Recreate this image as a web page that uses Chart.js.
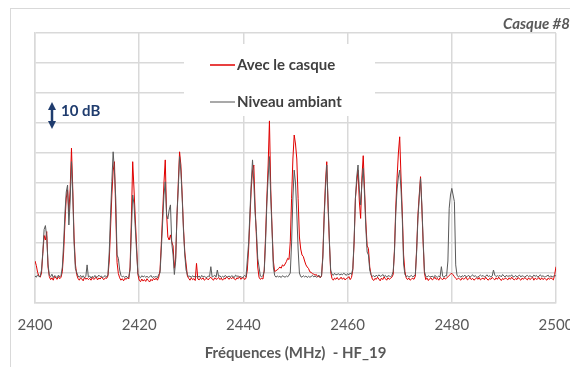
<!DOCTYPE html>
<html>
<head>
<meta charset="utf-8">
<script src="https://cdn.jsdelivr.net/npm/chart.js@4/dist/chart.umd.min.js"></script>
<style>
html,body{margin:0;padding:0;background:#fff;}
canvas{display:block;}
</style>
</head>
<body>
<canvas id="c" width="570" height="367"></canvas>
<script>
// Sampling grid (MHz)
const freqStart = 2400;
const freqStep = 0.25;
const xTicks = [2400, 2420, 2440, 2460, 2480, 2500];
const seriesNames = ['Avec le casque', 'Niveau ambiant'];

// "Avec le casque" (red), one row per MHz: f, f+.25, f+.5, f+.75
const avecCasque = [
14.0,12.5,10.2,9.0,
8.6,10.0,16.5,22.5,
21.0,23.8,12.0,8.8,
7.8,8.4,7.6,8.9,
8.3,7.9,8.8,8.1,
8.6,10.5,17.0,27.0,
35.0,37.7,30.4,38.0,
51.6,38.0,22.0,13.0,
9.5,8.2,7.6,8.4,
8.0,7.4,8.6,7.9,
8.3,7.8,8.2,7.6,
8.5,7.9,8.1,8.7,
7.7,8.3,8.0,8.6,
8.1,7.8,8.4,8.2,
9.0,14.0,25.0,36.0,
44.0,47.1,30.0,13.5,
9.8,8.4,7.6,8.1,
7.4,8.2,7.9,8.5,
8.0,12.0,28.0,47.1,
38.0,28.0,19.0,9.5,
7.6,7.1,8.0,7.3,
7.8,7.2,8.1,7.5,
7.0,7.9,7.4,8.2,
7.7,8.3,7.6,8.6,
11.0,20.0,30.0,40.0,
47.7,30.0,22.0,21.0,
22.7,20.4,19.0,11.6,
15.0,29.0,40.0,50.4,
46.0,36.0,25.0,17.0,
13.0,9.0,8.2,7.6,
8.4,7.8,8.1,7.5,
13.2,8.0,7.7,8.3,
7.9,8.4,7.6,8.0,
8.2,7.7,8.3,8.6,
8.0,7.6,8.4,7.9,
8.1,8.5,7.8,8.3,
7.6,8.2,8.0,8.7,
8.4,7.9,8.5,8.1,
8.6,8.0,7.7,8.4,
8.1,8.8,7.9,8.3,
8.5,7.8,8.3,11.0,
18.0,28.0,38.0,44.0,
46.0,32.0,22.0,12.0,
8.6,7.9,8.2,8.0,
11.0,22.0,35.0,46.0,
60.7,38.0,25.0,14.0,
10.4,10.8,11.0,11.5,
12.0,11.6,12.7,12.3,
13.0,13.8,14.9,14.5,
20.4,34.9,48.0,56.0,
53.0,48.0,34.9,22.0,
18.0,16.0,15.5,14.0,
12.7,12.0,11.5,10.4,
10.2,9.8,9.6,9.3,
9.5,8.7,9.0,8.4,
9.0,16.0,29.3,40.0,
47.1,32.0,20.4,10.4,
8.2,7.6,8.3,7.9,
8.5,7.8,8.0,8.6,
7.9,8.4,7.7,8.1,
8.3,8.8,7.8,8.5,
11.0,20.0,34.9,40.0,
44.3,34.0,28.2,42.0,
49.1,38.0,27.0,19.0,
18.2,12.0,9.5,8.0,
7.5,8.2,7.9,8.6,
8.0,7.4,8.3,7.8,
8.7,8.1,7.6,8.4,
7.9,8.2,8.6,9.5,
18.0,32.0,42.0,50.0,
55.4,42.0,30.0,16.0,
10.5,8.4,7.8,8.3,
7.6,8.0,8.2,7.9,
9.0,18.0,29.3,36.0,
42.1,32.0,20.0,10.0,
7.8,8.3,7.5,8.1,
8.4,7.7,8.0,8.6,
7.9,8.2,7.6,8.5,
8.1,7.8,8.4,8.0,
8.3,8.7,9.2,9.6,
9.9,9.4,8.8,8.2,
7.8,8.3,8.0,7.6,
8.4,7.9,8.2,8.6,
7.7,8.1,8.5,7.8,
8.2,7.6,8.0,8.4,
7.9,8.5,7.7,8.1,
8.3,7.8,8.6,8.0,
7.6,8.2,7.9,8.5,
8.1,7.7,8.4,7.9,
8.6,8.0,7.5,8.2,
7.8,8.3,8.1,7.7,
8.4,7.9,8.6,8.0,
7.7,8.2,7.8,8.5,
8.0,7.6,8.3,7.9,
8.5,8.1,7.7,8.4,
7.8,8.2,8.6,7.6,
8.3,7.9,8.1,8.5,
7.7,8.4,7.8,8.2,
8.0,7.6,8.3,7.9,
8.4,8.1,7.7,9.5,
12.1
];

// "Niveau ambiant" (grey), one row per MHz
const niveauAmbiant = [
9.0,8.6,9.4,8.8,
8.9,11.0,17.0,24.5,
25.8,22.0,13.0,9.2,
8.8,9.6,8.5,9.1,
8.9,8.4,9.3,8.7,
9.2,12.0,20.0,30.0,
37.0,39.3,26.0,34.0,
47.1,36.0,20.0,11.5,
10.2,9.0,8.6,9.2,
8.5,9.1,8.4,8.8,
12.7,8.6,9.0,8.3,
8.9,8.5,9.2,8.6,
8.7,9.3,8.8,9.0,
8.4,8.9,9.1,8.6,
9.5,17.0,29.3,40.5,
50.4,44.0,34.9,16.0,
14.9,11.0,9.2,8.7,
8.9,8.5,9.0,8.4,
8.6,11.0,24.0,36.0,
33.0,25.0,17.0,9.8,
8.8,8.4,9.1,8.7,
9.0,8.6,8.9,8.5,
8.7,9.2,8.5,8.8,
8.6,8.9,8.4,9.5,
10.0,18.0,27.0,36.0,
40.4,29.3,28.0,31.0,
32.7,20.0,16.0,9.5,
14.0,29.3,38.0,48.8,
44.0,35.0,24.0,16.0,
11.0,9.4,8.8,9.0,
8.5,9.1,8.7,8.9,
8.8,8.6,9.0,8.4,
9.2,8.7,8.9,8.6,
8.5,9.0,8.8,12.1,
8.7,8.9,9.3,8.6,
11.0,8.8,9.1,8.5,
8.9,8.6,9.2,8.8,
8.7,9.0,8.6,9.1,
8.8,8.5,9.3,8.9,
9.0,8.6,8.9,8.4,
8.8,9.2,8.7,14.3,
20.0,30.0,40.0,47.7,
40.0,30.0,23.8,14.9,
12.0,9.0,8.7,9.2,
10.5,20.0,33.0,42.0,
48.8,35.0,24.0,12.0,
9.2,8.6,9.0,8.7,
8.9,8.5,9.1,8.8,
8.6,9.0,8.7,9.3,
10.0,20.0,35.0,44.3,
40.0,30.0,18.0,10.0,
8.8,8.6,9.1,8.7,
9.0,8.5,8.9,8.6,
8.8,9.2,8.7,9.0,
8.6,8.9,9.3,8.5,
9.2,15.0,28.0,38.0,
46.0,34.0,21.0,11.0,
9.6,9.2,9.9,9.4,
9.5,9.8,9.3,9.7,
9.4,9.9,9.6,9.2,
9.8,9.4,10.0,9.5,
11.5,21.0,34.9,42.0,
46.0,38.0,32.7,40.0,
44.9,36.0,25.0,17.0,
16.0,11.0,9.4,8.9,
9.1,8.7,9.3,8.8,
9.4,8.9,9.0,9.5,
8.8,9.2,8.6,9.1,
9.0,8.7,9.2,10.5,
17.0,30.0,38.0,42.0,
44.3,38.0,28.0,13.0,
9.5,8.8,9.1,8.6,
8.9,9.2,8.7,9.0,
9.5,17.0,28.0,35.0,
41.5,33.0,21.0,10.5,
8.9,8.6,9.1,8.8,
8.7,9.0,8.5,9.2,
8.8,8.6,9.0,8.7,
12.1,8.9,8.6,9.1,
9.0,14.0,31.6,36.0,
38.2,36.0,33.8,12.7,
9.3,8.7,9.0,8.6,
9.1,8.8,9.3,8.7,
8.9,9.2,8.6,9.0,
9.4,8.8,9.1,8.7,
8.6,9.0,9.3,8.9,
9.2,8.7,8.9,9.4,
8.8,9.1,8.6,9.0,
11.0,9.3,8.8,9.1,
8.9,9.2,8.7,9.5,
9.0,8.6,9.3,8.8,
9.1,8.9,9.4,8.7,
8.8,9.2,8.6,9.0,
9.3,8.7,9.1,8.9,
8.6,9.0,9.2,8.8,
9.1,8.8,8.7,9.3,
8.9,9.2,8.6,9.0,
9.4,8.8,9.1,8.7,
8.8,9.0,9.3,8.6,
9.1,8.7,8.9,9.2,
9.0
];

const toPoints = arr => arr.map((v, i) => ({x: freqStart + i * freqStep, y: v}));

const FONT = 'Lato, "Open Sans", "DejaVu Sans", sans-serif';
const GRID = '#d9d9d9';
const RED = '#e00000';
const GREY = '#5a5a5a';

const overlay = {
  id: 'overlay',
  beforeDraw(chart) {
    const ctx = chart.ctx;
    ctx.save();
    ctx.fillStyle = '#fff';
    ctx.fillRect(0, 0, chart.width, chart.height);
    ctx.strokeStyle = '#d9d9d9';
    ctx.lineWidth = 1;
    ctx.strokeRect(10.5, 8.5, 700, 500);
    ctx.restore();
  },
  afterDraw(chart) {
    const ctx = chart.ctx;
    ctx.save();
    // legend box
    ctx.fillStyle = '#fff';
    ctx.fillRect(184, 44, 191, 72);
    const items = [[seriesNames[0], RED, 65], [seriesNames[1], '#8c8c8c', 102]];
    ctx.font = 'bold 15px ' + FONT;
    ctx.textBaseline = 'middle';
    items.forEach(function (it) {
      ctx.beginPath();
      ctx.strokeStyle = it[1];
      ctx.lineWidth = 1.5;
      ctx.moveTo(210, it[2]);
      ctx.lineTo(235, it[2]);
      ctx.stroke();
      ctx.fillStyle = '#404040';
      ctx.fillText(it[0], 237, it[2]);
    });
    // 10 dB scale arrow
    const col = '#1f3c6e';
    ctx.strokeStyle = col;
    ctx.fillStyle = col;
    ctx.lineWidth = 2.5;
    const ax = 52, y1 = 102, y2 = 129;
    ctx.beginPath();
    ctx.moveTo(ax, y1 + 5);
    ctx.lineTo(ax, y2 - 5);
    ctx.stroke();
    ctx.beginPath();
    ctx.moveTo(ax, y1); ctx.lineTo(ax - 4, y1 + 8); ctx.lineTo(ax + 4, y1 + 8); ctx.closePath(); ctx.fill();
    ctx.beginPath();
    ctx.moveTo(ax, y2); ctx.lineTo(ax - 4, y2 - 8); ctx.lineTo(ax + 4, y2 - 8); ctx.closePath(); ctx.fill();
    ctx.font = 'bold 15px ' + FONT;
    ctx.fillStyle = col;
    ctx.textBaseline = 'middle';
    ctx.fillText('10 dB', 61, 111);
    // header (cut off by the right edge, as in the original)
    ctx.font = 'italic bold 15px ' + FONT;
    ctx.fillStyle = '#595959';
    ctx.fillText('Casque #8', 503, 24);
    ctx.restore();
  }
};

new Chart(document.getElementById('c'), {
  type: 'line',
  data: {
    datasets: [
      {label: seriesNames[0], data: toPoints(avecCasque), borderColor: RED, borderWidth: 1, pointRadius: 0, tension: 0, order: 2},
      {label: seriesNames[1], data: toPoints(niveauAmbiant), borderColor: GREY, borderWidth: 1, pointRadius: 0, tension: 0, order: 1}
    ]
  },
  options: {
    responsive: false,
    animation: false,
    devicePixelRatio: 1,
    layout: {padding: {left: 35, right: 14, top: 33, bottom: 0}},
    plugins: {legend: {display: false}, tooltip: {enabled: false}},
    scales: {
      x: {
        type: 'linear',
        min: xTicks[0], max: xTicks[xTicks.length - 1],
        afterBuildTicks: s => { s.ticks = xTicks.map(v => ({value: v})); },
        afterFit: s => { s.height = 64; s.paddingLeft = 0; s.paddingRight = 0; },
        grid: {color: GRID, lineWidth: 1.5, drawTicks: false},
        border: {color: GRID, width: 1.5},
        ticks: {color: '#595959', font: {family: FONT, size: 15}, padding: 13, maxRotation: 0, callback: v => String(v)},
        title: {display: true, text: 'Fréquences (MHz)  - HF_19', color: '#595959', font: {family: FONT, size: 15, weight: 'bold'}, padding: {top: 0, bottom: 5}}
      },
      y: {
        min: 0, max: 90,
        ticks: {display: false, stepSize: 10},
        afterFit: s => { s.width = 0; },
        grid: {color: GRID, lineWidth: 1.5, drawTicks: false},
        border: {color: GRID, width: 1.5}
      }
    }
  },
  plugins: [overlay]
});
</script>
</body>
</html>
